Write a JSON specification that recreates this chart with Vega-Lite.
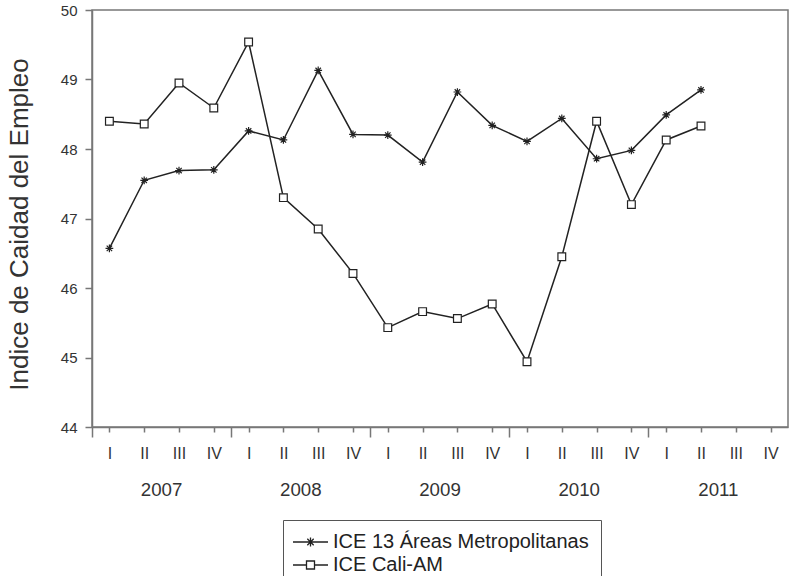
{
  "$schema": "https://vega.github.io/schema/vega-lite/v6.json",
  "width": 696,
  "height": 417,
  "autosize": "none",
  "padding": {"left": 92, "top": 10, "right": 4, "bottom": 149},
  "background": "white",
  "config": {
    "font": "Liberation Sans",
    "view": {"stroke": "#777", "strokeWidth": 1.5},
    "axis": {"labelColor": "#333", "tickColor": "#777", "domainColor": "#777", "labelFont": "Liberation Sans", "titleFont": "Liberation Sans", "grid": false, "tickWidth": 1.5, "domainWidth": 1.5}
  },
  "datasets": {
    "series": [
      {"period": "2007-I", "series": "ICE 13 Áreas Metropolitanas", "value": 46.57},
      {"period": "2007-II", "series": "ICE 13 Áreas Metropolitanas", "value": 47.55},
      {"period": "2007-III", "series": "ICE 13 Áreas Metropolitanas", "value": 47.69},
      {"period": "2007-IV", "series": "ICE 13 Áreas Metropolitanas", "value": 47.70},
      {"period": "2008-I", "series": "ICE 13 Áreas Metropolitanas", "value": 48.26},
      {"period": "2008-II", "series": "ICE 13 Áreas Metropolitanas", "value": 48.13},
      {"period": "2008-III", "series": "ICE 13 Áreas Metropolitanas", "value": 49.13},
      {"period": "2008-IV", "series": "ICE 13 Áreas Metropolitanas", "value": 48.21},
      {"period": "2009-I", "series": "ICE 13 Áreas Metropolitanas", "value": 48.20},
      {"period": "2009-II", "series": "ICE 13 Áreas Metropolitanas", "value": 47.81},
      {"period": "2009-III", "series": "ICE 13 Áreas Metropolitanas", "value": 48.82},
      {"period": "2009-IV", "series": "ICE 13 Áreas Metropolitanas", "value": 48.34},
      {"period": "2010-I", "series": "ICE 13 Áreas Metropolitanas", "value": 48.11},
      {"period": "2010-II", "series": "ICE 13 Áreas Metropolitanas", "value": 48.44},
      {"period": "2010-III", "series": "ICE 13 Áreas Metropolitanas", "value": 47.86},
      {"period": "2010-IV", "series": "ICE 13 Áreas Metropolitanas", "value": 47.98},
      {"period": "2011-I", "series": "ICE 13 Áreas Metropolitanas", "value": 48.49},
      {"period": "2011-II", "series": "ICE 13 Áreas Metropolitanas", "value": 48.85},
      {"period": "2007-I", "series": "ICE Cali-AM", "value": 48.40},
      {"period": "2007-II", "series": "ICE Cali-AM", "value": 48.36},
      {"period": "2007-III", "series": "ICE Cali-AM", "value": 48.95},
      {"period": "2007-IV", "series": "ICE Cali-AM", "value": 48.59},
      {"period": "2008-I", "series": "ICE Cali-AM", "value": 49.54},
      {"period": "2008-II", "series": "ICE Cali-AM", "value": 47.30},
      {"period": "2008-III", "series": "ICE Cali-AM", "value": 46.85},
      {"period": "2008-IV", "series": "ICE Cali-AM", "value": 46.21},
      {"period": "2009-I", "series": "ICE Cali-AM", "value": 45.43},
      {"period": "2009-II", "series": "ICE Cali-AM", "value": 45.66},
      {"period": "2009-III", "series": "ICE Cali-AM", "value": 45.56},
      {"period": "2009-IV", "series": "ICE Cali-AM", "value": 45.77},
      {"period": "2010-I", "series": "ICE Cali-AM", "value": 44.94},
      {"period": "2010-II", "series": "ICE Cali-AM", "value": 46.45},
      {"period": "2010-III", "series": "ICE Cali-AM", "value": 48.40},
      {"period": "2010-IV", "series": "ICE Cali-AM", "value": 47.20},
      {"period": "2011-I", "series": "ICE Cali-AM", "value": 48.13},
      {"period": "2011-II", "series": "ICE Cali-AM", "value": 48.33}
    ],
    "years": [
      {"year": "2007"}, {"year": "2008"}, {"year": "2009"}, {"year": "2010"}, {"year": "2011"}
    ]
  },
  "layer": [
    {
      "data": {"name": "series"},
      "encoding": {
        "x": {
          "field": "period", "type": "ordinal",
          "scale": {"domain": ["2007-I","2007-II","2007-III","2007-IV","2008-I","2008-II","2008-III","2008-IV","2009-I","2009-II","2009-III","2009-IV","2010-I","2010-II","2010-III","2010-IV","2011-I","2011-II","2011-III","2011-IV"], "paddingInner": 0, "paddingOuter": 0},
          "axis": {"orient": "bottom", "title": null, "labelAngle": 0, "bandPosition": 0, "tickSize": 5, "labelPadding": 13, "labelFontSize": 16, "labelExpr": "split(datum.value, '-')[1]"}
        },
        "y": {
          "field": "value", "type": "quantitative",
          "scale": {"domain": [44, 50], "zero": false, "nice": false},
          "axis": {"values": [44, 45, 46, 47, 48, 49, 50], "format": "d", "tickSize": 7, "labelPadding": 8, "labelFontSize": 15, "title": "Indice de Caidad del Empleo", "titleFontSize": 26, "titleFontWeight": "normal", "titleColor": "#333", "titleX": -65, "titleY": 214, "titleBaseline": "alphabetic", "titleAngle": -90}
        }
      },
      "layer": [
        {
          "mark": {"type": "line", "color": "#222", "strokeWidth": 1.5},
          "encoding": {"detail": {"field": "series", "type": "nominal"}}
        },
        {
          "mark": {"type": "point", "filled": true, "color": "#222", "fill": "white", "fillOpacity": 1, "stroke": "#222", "strokeWidth": 1.2, "opacity": 1, "size": 60},
          "encoding": {
            "shape": {
              "field": "series", "type": "nominal",
              "scale": {"domain": ["ICE 13 Áreas Metropolitanas", "ICE Cali-AM"], "range": ["M-1,0H1M0,-1V1M-0.7,-0.7L0.7,0.7M-0.7,0.7L0.7,-0.7", "square"]},
              "legend": null
            }
          }
        },
        {
          "mark": {"type": "point", "filled": false, "color": "#222", "opacity": 0, "size": 100},
          "encoding": {
            "shape": {
              "field": "series", "type": "nominal",
              "scale": {"domain": ["ICE 13 Áreas Metropolitanas", "ICE Cali-AM"], "range": ["M-2.4,0H4.6M1.1,-0.9V0.9M0.46,-0.64L1.74,0.64M0.46,0.64L1.74,-0.64", "M-2.4,0H0.3M1.9,0H4.6M0.3,-0.8H1.9V0.8H0.3Z"]},
              "legend": {
                "orient": "none", "legendX": 191, "legendY": 510, "title": null,
                "strokeColor": "#555", "padding": 12, "labelFontSize": 20, "labelColor": "#222", "labelFont": "Liberation Sans", "labelLimit": 0,
                "symbolSize": 100, "symbolFillColor": "white", "symbolStrokeColor": "#222", "symbolStrokeWidth": 1.3, "symbolOpacity": 1, "labelOffset": 18, "rowPadding": 3
              }
            }
          }
        }
      ],
      "resolve": {"scale": {"shape": "independent"}}
    },
    {
      "data": {"name": "years"},
      "mark": {"type": "rule", "opacity": 0},
      "encoding": {
        "x": {
          "field": "year", "type": "ordinal",
          "scale": {"paddingInner": 0, "paddingOuter": 0},
          "axis": {"orient": "bottom", "title": null, "labelAngle": 0, "bandPosition": 0, "tickSize": 10, "labelPadding": 43, "labelFontSize": 18.7, "domain": false}
        }
      }
    }
  ],
  "resolve": {"scale": {"x": "independent"}, "axis": {"x": "independent"}}
}
